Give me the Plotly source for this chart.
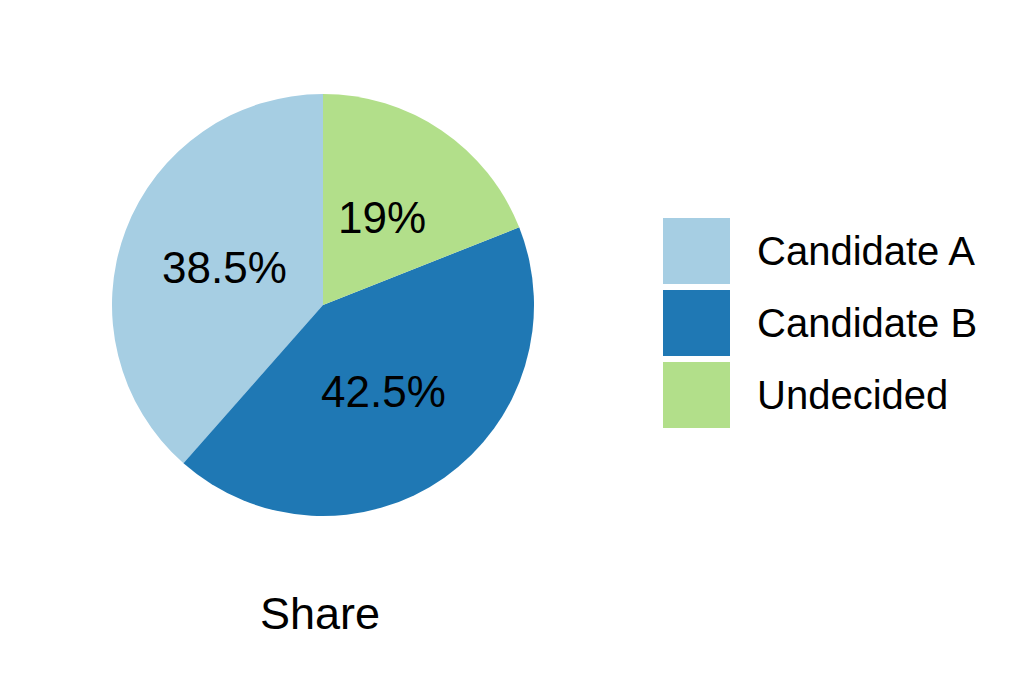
import math
import plotly.graph_objects as go

labels = ["Candidate A", "Candidate B", "Undecided"]
values = [38.5, 42.5, 19.0]
text_labels = ["38.5%", "42.5%", "19%"]
colors = ["#a6cee3", "#1f78b4", "#b2df8a"]
title_text = "Share"

OFF = 8  # default page body margin
W, H = 1024 - OFF, 683 - OFF
cx, cy, R = 323 - OFF, 305 - OFF, 211
FONT = "Liberation Sans, Arial, Helvetica, sans-serif"
total = sum(values)

# plotly's counterclockwise mode puts the first slice clockwise of the rotation
# angle; rotate so the first slice starts at 12 o'clock going counterclockwise.
rot = -values[0] / total * 360

fig = go.Figure()
fig.add_trace(go.Pie(
    labels=labels, values=values, sort=False, direction="counterclockwise",
    rotation=rot, marker=dict(colors=colors, line=dict(width=0)),
    textinfo="none", hoverinfo="label+percent", showlegend=False,
    domain=dict(x=[(cx - R) / W, (cx + R) / W], y=[1 - (cy + R) / H, 1 - (cy - R) / H]),
))

annotations = []
cum = 0.0
for v, t in zip(values, text_labels):
    mid = 90 + (cum + v / 2) / total * 360
    cum += v
    rr = 0.5 * R
    px = cx + rr * math.cos(math.radians(mid))
    py = cy - rr * math.sin(math.radians(mid))
    annotations.append(dict(x=px / W, y=1 - py / H, xref="paper", yref="paper",
                            text=t, showarrow=False, xanchor="center", yanchor="middle",
                            font=dict(family=FONT, size=44, color="black")))

annotations.append(dict(x=(320 - OFF) / W, y=1 - (613 - OFF) / H, xref="paper", yref="paper",
                        text=title_text, showarrow=False, xanchor="center", yanchor="middle",
                        font=dict(family=FONT, size=45, color="black")))

shapes = []
key_x0, key_w, key_h, key_gap, key_y0 = 663 - OFF, 67, 66, 6, 218 - OFF
for i, (lab, col) in enumerate(zip(labels, colors)):
    y0 = key_y0 + i * (key_h + key_gap)
    shapes.append(dict(type="rect", xref="paper", yref="paper",
                       x0=key_x0 / W, x1=(key_x0 + key_w) / W,
                       y0=1 - (y0 + key_h) / H, y1=1 - y0 / H,
                       fillcolor=col, line=dict(width=0)))
    annotations.append(dict(x=(755 - OFF) / W, y=1 - (y0 + key_h / 2) / H, xref="paper", yref="paper",
                            text=lab, showarrow=False, xanchor="left", yanchor="middle",
                            font=dict(family=FONT, size=40, color="black")))

fig.update_layout(width=W, height=H, margin=dict(l=0, r=0, t=0, b=0),
                  paper_bgcolor="white", plot_bgcolor="white",
                  annotations=annotations, shapes=shapes)
fig.write_html("out.html")
